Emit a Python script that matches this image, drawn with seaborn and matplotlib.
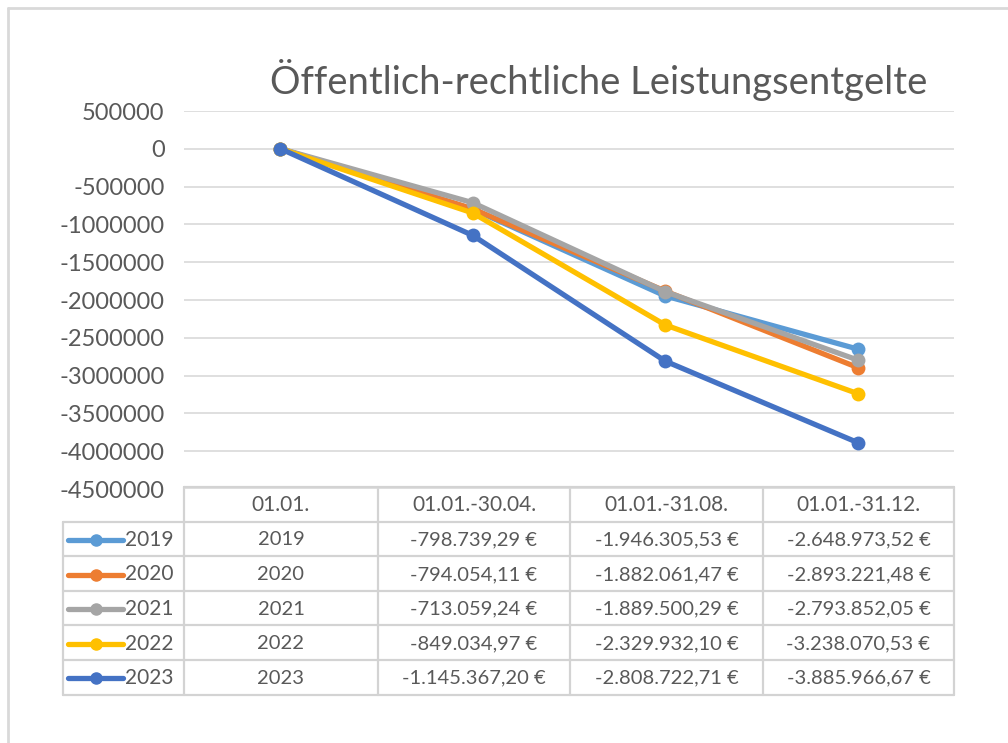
import pandas as pd
import matplotlib
matplotlib.use("Agg")
import matplotlib.pyplot as plt
import seaborn as sns

periods = ["01.01.", "01.01.-30.04.", "01.01.-31.08.", "01.01.-31.12."]
years = ["2019", "2020", "2021", "2022", "2023"]
v2019 = [2019, -798739.29, -1946305.53, -2648973.52]
v2020 = [2020, -794054.11, -1882061.47, -2893221.48]
v2021 = [2021, -713059.24, -1889500.29, -2793852.05]
v2022 = [2022, -849034.97, -2329932.10, -3238070.53]
v2023 = [2023, -1145367.20, -2808722.71, -3885966.67]
series = [v2019, v2020, v2021, v2022, v2023]
colors = ["#5B9BD5", "#ED7D31", "#A5A5A5", "#FFC000", "#4472C4"]
y_ticks = list(range(500000, -4500001, -500000))
title = "Öffentlich-rechtliche Leistungsentgelte"

rows = []
for year, vals in zip(years, series):
    for p, v in zip(periods, vals):
        rows.append({"Zeitraum": p, "Wert": v, "Jahr": year})
df = pd.DataFrame(rows)


def euro(v):
    # German number format: -1.234.567,89 €
    s = f"{v:,.2f}".replace(",", "X").replace(".", ",").replace("X", ".")
    return s + " €"


sns.set_theme(style="white")
plt.rcParams["font.family"] = ["Lato", "DejaVu Sans"]
text_col = "#595959"
line_col = "#D9D9D9"

W, H = 1008, 743
fig = plt.figure(figsize=(W / 100, H / 100), dpi=100)


def fx(px):
    return px / W


def fy(py):
    return 1 - py / H


# plot area
x0, x1, ytop, ybot = 184, 954, 111, 489
ax = fig.add_axes([fx(x0), fy(ybot), fx(x1) - fx(x0), fy(ytop) - fy(ybot)])
sns.lineplot(data=df, x="Zeitraum", y="Wert", hue="Jahr", palette=colors,
             marker="o", markersize=10, markeredgewidth=0, linewidth=3.8,
             sort=False, errorbar=None, legend=False, ax=ax)
ax.set_xlim(-0.5, len(periods) - 0.5)
ax.set_ylim(y_ticks[-1], y_ticks[0])
ax.set_yticks(y_ticks)
ax.set_yticklabels([str(t) for t in y_ticks])
ax.set_xticks([])
ax.set_xlabel("")
ax.set_ylabel("")
for s in ax.spines.values():
    s.set_visible(False)
ax.yaxis.grid(True, color=line_col, linewidth=1.2)
ax.set_axisbelow(True)
ax.tick_params(axis="y", length=0, pad=14, labelsize=17, labelcolor=text_col)
ax.patch.set_alpha(0)

fig.text(fx(270), fy(94), title, ha="left", va="baseline", fontsize=27.5,
         fontweight="normal", color=text_col)

# data table below the plot
tb = fig.add_axes([0, 0, 1, 1], zorder=-1)
tb.set_xlim(0, W)
tb.set_ylim(H, 0)
tb.axis("off")
tcol = "#D3D3D3"
lw = 1.6
col_edges = [63, 184, 378, 570, 763, 954]
top, rh = 487, 34.6
row_edges = [top + i * rh for i in range(len(years) + 2)]

# header row
tb.plot([col_edges[1], col_edges[-1]], [row_edges[0]] * 2, color=tcol, lw=lw)
for xe in col_edges[1:]:
    tb.plot([xe, xe], [row_edges[0], row_edges[-1]], color=tcol, lw=lw)
tb.plot([col_edges[0]] * 2, [row_edges[1], row_edges[-1]], color=tcol, lw=lw)
for ye in row_edges[1:]:
    tb.plot([col_edges[0], col_edges[-1]], [ye, ye], color=tcol, lw=lw)

for j, p in enumerate(periods):
    xc = (col_edges[j + 1] + col_edges[j + 2]) / 2
    tb.text(xc, (row_edges[0] + row_edges[1]) / 2 + 1, p, ha="center", va="center",
            fontsize=15, color=text_col)

for i, (year, vals, c) in enumerate(zip(years, series, colors)):
    yc = (row_edges[i + 1] + row_edges[i + 2]) / 2 + 1
    tb.plot([68, 123], [yc, yc], color=c, lw=3.8, solid_capstyle="round")
    tb.plot([95.5], [yc], "o", color=c, markersize=8)
    tb.text(125, yc, year, ha="left", va="center", fontsize=15, color=text_col)
    for j, v in enumerate(vals):
        xc = (col_edges[j + 1] + col_edges[j + 2]) / 2
        label = str(int(v)) if j == 0 else euro(v)
        tb.text(xc, yc, label, ha="center", va="center", fontsize=14.5, color=text_col)

# outer chart frame (cropped screenshot: only top and left edges visible)
tb.plot([8, 8], [8, H], color=line_col, lw=2)
tb.plot([8, W], [8, 8], color=line_col, lw=2)

fig.savefig("out.png", dpi=100)
